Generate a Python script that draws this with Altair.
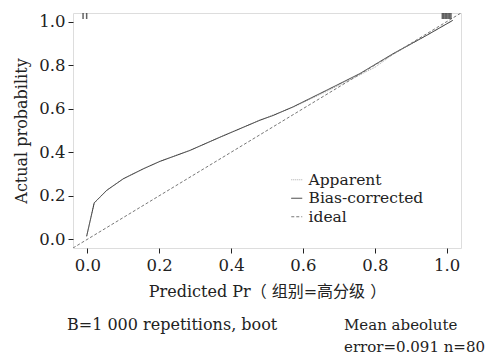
import altair as alt
import pandas as pd

FONT = "'DejaVu Serif', 'Noto Sans CJK SC', serif"

# Bias-corrected calibration curve
bc_x = [-0.002, 0.019, 0.054, 0.10, 0.156, 0.202, 0.285, 0.369, 0.48, 0.517, 0.573, 0.666, 0.758, 0.851, 0.944, 1.017]
bc_y = [0.014, 0.167, 0.225, 0.278, 0.324, 0.358, 0.408, 0.469, 0.547, 0.569, 0.609, 0.685, 0.761, 0.853, 0.937, 1.006]
# Apparent curve (nearly overlapping)
ap_x = [-0.002, 0.019, 0.054, 0.10, 0.156, 0.202, 0.285, 0.369, 0.48, 0.573, 0.666, 0.758, 0.80, 0.851, 0.944, 1.017]
ap_y = [0.014, 0.168, 0.226, 0.279, 0.325, 0.359, 0.409, 0.470, 0.548, 0.607, 0.680, 0.755, 0.790, 0.850, 0.937, 1.006]
# Ideal line
id_x = [-0.04, 1.04]
id_y = [-0.04, 1.04]
# Rug of predicted probabilities (top)
rug_x = [-0.012, -0.002, 0.988, 0.992, 0.996, 1.0, 1.004, 1.008, 1.012]

series = ["Apparent", "Bias-corrected", "ideal"]

rows = []
for i, (x, y) in enumerate(zip(ap_x, ap_y)):
    rows.append({"x": x, "y": y, "s": "Apparent", "o": i})
for i, (x, y) in enumerate(zip(bc_x, bc_y)):
    rows.append({"x": x, "y": y, "s": "Bias-corrected", "o": i})
for i, (x, y) in enumerate(zip(id_x, id_y)):
    rows.append({"x": x, "y": y, "s": "ideal", "o": i})
df = pd.DataFrame(rows)
rug = pd.DataFrame({"x": rug_x})

xs = alt.Scale(domain=[-0.04, 1.04], nice=False, zero=False)
ys = alt.Scale(domain=[-0.04, 1.04], nice=False, zero=False)

axis_common = dict(
    values=[0, 0.2, 0.4, 0.6, 0.8, 1.0], format=".1f", domain=False, grid=False,
    tickColor="#222", tickSize=5, tickWidth=1, labelFont=FONT, labelFontSize=16.5,
    labelColor="#222", titleFont=FONT, titleFontSize=16, titleFontWeight="normal",
    titleColor="#222",
)

lines = alt.Chart(df).mark_line(strokeWidth=1, clip=True).encode(
    x=alt.X("x:Q", scale=xs, axis=alt.Axis(title="Predicted Pr（ 组别=高分级 ）", titlePadding=10, labelPadding=4, **axis_common)),
    y=alt.Y("y:Q", scale=ys, axis=alt.Axis(title="Actual probability", titlePadding=9, labelPadding=3, **axis_common)),
    color=alt.Color("s:N", scale=alt.Scale(domain=series, range=["#aaaaaa", "#333333", "#777777"]),
                    legend=alt.Legend(title=None, orient="none", legendX=216, legendY=159,
                                      symbolType="stroke", symbolSize=120, symbolStrokeWidth=1,
                                      labelFont=FONT, labelFontSize=15.5, labelColor="#222",
                                      rowPadding=1.5, labelOffset=4)),
    strokeDash=alt.StrokeDash("s:N", scale=alt.Scale(domain=series, range=[[1, 1], [1, 0], [3, 2]]), legend=None),
    order="o:Q",
)

rugm = alt.Chart(rug).mark_tick(color="#222", thickness=1.5, size=6, orient="vertical").encode(
    x=alt.X("x:Q", scale=xs),
    y=alt.value(3),
)

foot1 = alt.Chart().mark_text(text="B=1 000 repetitions, boot", font=FONT, fontSize=16, color="#222", align="left", baseline="middle").encode(
    x=alt.value(-6), y=alt.value(312))
foot2 = alt.Chart().mark_text(text="Mean abeolute", font=FONT, fontSize=15, color="#222", align="left", baseline="middle").encode(
    x=alt.value(271), y=alt.value(312))
foot3 = alt.Chart().mark_text(text="error=0.091 n=80", font=FONT, fontSize=15, color="#222", align="left", baseline="middle").encode(
    x=alt.value(271), y=alt.value(334))

chart = alt.layer(lines, rugm, foot1, foot2, foot3).properties(
    width=388, height=235,
    autosize=alt.AutoSizeParams(type="none"),
    padding={"left": 65, "top": 5, "right": 25, "bottom": 110},
).configure_view(stroke="#222", strokeWidth=1.5).configure(background="white")

chart.save("out.html", embed_options={"renderer": "svg", "actions": False})
